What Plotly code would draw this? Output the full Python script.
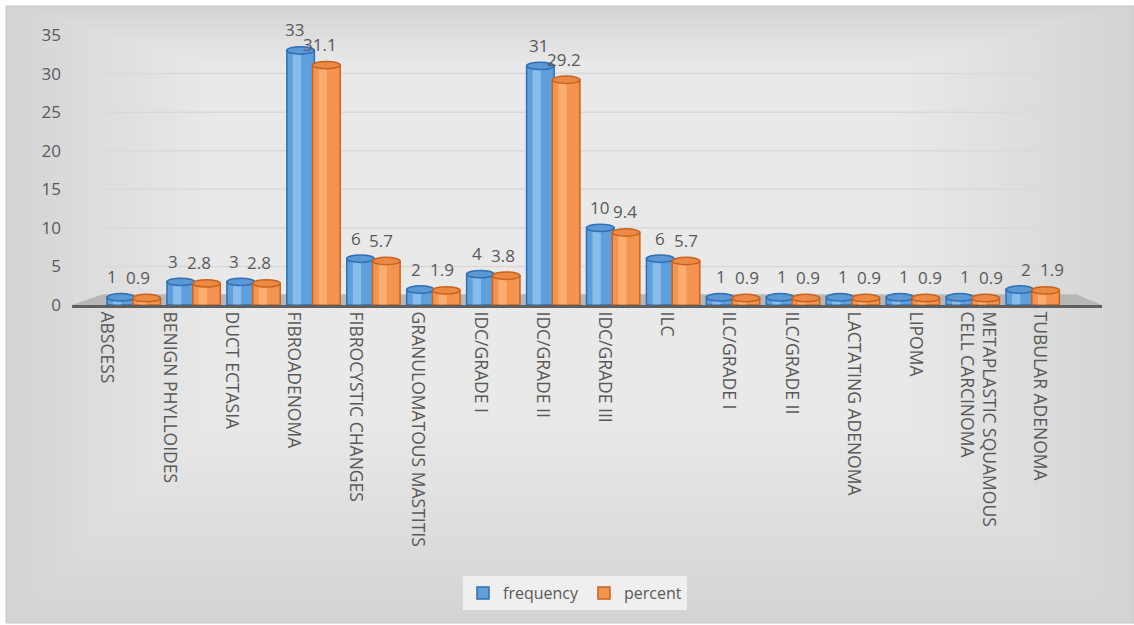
import plotly.graph_objects as go

categories = ["ABSCESS", "BENIGN PHYLLOIDES", "DUCT ECTASIA", "FIBROADENOMA",
              "FIBROCYSTIC CHANGES", "GRANULOMATOUS MASTITIS", "IDC/GRADE I",
              "IDC/GRADE II", "IDC/GRADE III", "ILC", "ILC/GRADE I", "ILC/GRADE II",
              "LACTATING ADENOMA", "LIPOMA", "METAPLASTIC SQUAMOUS<br>CELL CARCINOMA",
              "TUBULAR ADENOMA"]
frequency = [1, 3, 3, 33, 6, 2, 4, 31, 10, 6, 1, 1, 1, 1, 1, 2]
percent = [0.9, 2.8, 2.8, 31.1, 5.7, 1.9, 3.8, 29.2, 9.4, 5.7, 0.9, 0.9, 0.9, 0.9, 0.9, 1.9]
y_ticks = [0, 5, 10, 15, 20, 25, 30, 35]

W, H = 1134, 625
L_PX, R_PX, T_PX, B_PX = 72, 1102, 35, 305
pw = R_PX - L_PX
ph = B_PX - T_PX

BLUE_FILL, BLUE_LINE, BLUE_CAP, BLUE_HI = "#5f9fdc", "#2f6fb3", "#5b98d4", "#a9d3f5"
ORANGE_FILL, ORANGE_LINE, ORANGE_CAP, ORANGE_HI = "#f39550", "#c9621e", "#ec8a45", "#ffc08c"
TXT = "#595959"
FONT = "Open Sans"

n = len(categories)
x_idx = list(range(n))

# label axis: category 0 at ~107px, category 15 at ~1040px
step1 = (1040 - 107) / 15
r0_1 = -(107 - L_PX) / step1
r1_1 = r0_1 + pw / step1
# bar axis (perspective floor): pair 0 centred at ~134px, pair 15 at ~1033px
step2 = (1033 - 134) / 15
r0_2 = -(134 - L_PX) / step2
r1_2 = r0_2 + pw / step2

B_OFF, O_OFF, BW = -0.45, -0.02, 0.46

fig = go.Figure()
# empty trace so that the category (label) axis is drawn
fig.add_trace(go.Scatter(x=[], y=[], xaxis="x", yaxis="y", showlegend=False,
                         hoverinfo="skip"))
fig.add_trace(go.Bar(
    x=x_idx, y=frequency, name="frequency", offset=B_OFF, width=BW, xaxis="x2",
    marker=dict(color=BLUE_FILL, line=dict(color=BLUE_LINE, width=1.5)),
    hoverinfo="y",
))
fig.add_trace(go.Bar(
    x=x_idx, y=percent, name="percent", offset=O_OFF, width=BW, xaxis="x2",
    marker=dict(color=ORANGE_FILL, line=dict(color=ORANGE_LINE, width=1.5)),
    hoverinfo="y",
))

shapes = []
# background frame with soft radial-ish gradient
fx0, fx1 = (6 - L_PX) / pw, (1134 - L_PX) / pw
fy0, fy1 = (B_PX - 623) / ph, (B_PX - 6) / ph
shapes.append(dict(type="rect", xref="paper", yref="paper", layer="below",
                   x0=fx0, x1=fx1, y0=fy0, y1=fy1,
                   fillcolor="#d4d4d4", line=dict(color="#c6c6c6", width=1)))
cx0, cx1 = (300 - L_PX) / pw, (800 - L_PX) / pw
cy0, cy1 = (B_PX - 330) / ph, (B_PX - 90) / ph
steps = 30
for k in range(1, steps + 1):
    t = k / steps
    shapes.append(dict(type="rect", xref="paper", yref="paper", layer="below",
                       x0=fx0 + (cx0 - fx0) * t, x1=fx1 + (cx1 - fx1) * t,
                       y0=fy0 + (cy0 - fy0) * t, y1=fy1 + (cy1 - fy1) * t,
                       fillcolor="rgba(255,255,255,0.042)", line=dict(width=0)))
# gridlines on the back wall
for v in y_ticks[1:]:
    shapes.append(dict(type="line", xref="paper", yref="y", layer="below",
                       x0=(100 - L_PX) / pw, x1=(1048 - L_PX) / pw, y0=v, y1=v,
                       line=dict(color="#d9d9d9", width=1.5)))
# floor
shapes.append(dict(type="path", xref="paper", yref="y", layer="below",
                   path="M 0,0 L 1,0 L 0.975,1.4 L 0.03,1.4 Z",
                   fillcolor="#b7b7b7", line=dict(width=0)))

# cylinder highlight strips and caps
cap = 0.48
for i, (f, p) in enumerate(zip(frequency, percent)):
    for v, off, hi, capc, line in ((f, B_OFF, BLUE_HI, BLUE_CAP, BLUE_LINE),
                                   (p, O_OFF, ORANGE_HI, ORANGE_CAP, ORANGE_LINE)):
        shapes.append(dict(type="rect", xref="x2", yref="y", layer="above",
                           x0=i + off + BW * 0.22, x1=i + off + BW * 0.52,
                           y0=0.05, y1=v,
                           fillcolor=hi, opacity=0.55, line=dict(width=0)))
        shapes.append(dict(type="circle", xref="x2", yref="y", layer="above",
                           x0=i + off, x1=i + off + BW, y0=v - cap, y1=v + cap,
                           fillcolor=capc, line=dict(color=line, width=1.5)))

# data labels
annotations = []
for i, (f, p) in enumerate(zip(frequency, percent)):
    xs = -9 + i * 1.0
    for v, off in ((f, B_OFF), (p, O_OFF)):
        annotations.append(dict(x=i + off + BW / 2, y=v, xref="x2", yref="y",
                                text=str(v), showarrow=False, yanchor="bottom",
                                yshift=7, xshift=xs,
                                font=dict(size=17, color=TXT, family=FONT)))

fig.update_layout(
    width=W, height=H,
    margin=dict(l=L_PX, r=W - R_PX, t=T_PX, b=H - B_PX, pad=0),
    paper_bgcolor="white", plot_bgcolor="rgba(0,0,0,0)",
    font=dict(family=FONT, color=TXT),
    shapes=shapes,
    annotations=annotations,
    showlegend=True,
    legend=dict(orientation="h", x=(575 - L_PX) / pw, xanchor="center",
                y=(B_PX - 593) / ph, yanchor="middle",
                bgcolor="#efefef", font=dict(size=16, color=TXT, family=FONT),
                itemwidth=30, tracegroupgap=0),
    xaxis=dict(range=[r0_1, r1_1], tickmode="array", tickvals=x_idx,
               ticktext=categories, tickangle=90, showgrid=False,
               showline=True, linecolor="#5f5f5f", linewidth=3,
               ticks="", tickfont=dict(size=17.5, color=TXT, family=FONT),
               zeroline=False),
    xaxis2=dict(range=[r0_2, r1_2], overlaying="x", side="bottom",
                showticklabels=False, showgrid=False, showline=False,
                zeroline=False, ticks=""),
    yaxis=dict(range=[0, 35], tickvals=y_ticks, showgrid=False,
               zeroline=False, showline=False, ticks="", ticklabelstandoff=10,
               tickfont=dict(size=17, color=TXT, family=FONT)),
)

fig.write_html("out.html")
